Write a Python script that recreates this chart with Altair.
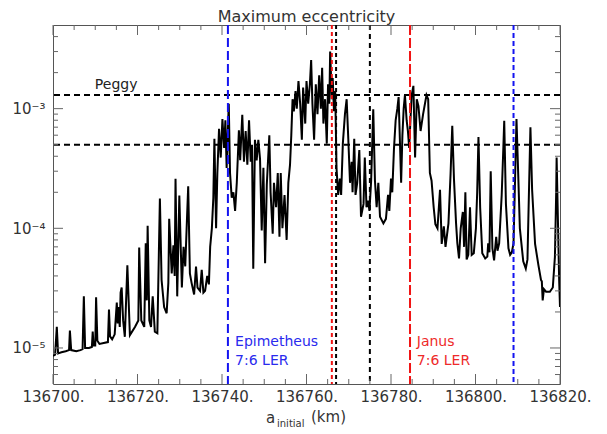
import altair as alt
import pandas as pd

# ---------------- data (a_initial in km, maximum eccentricity) ----------------
left_ramp = [
    (136700.0, 8.6e-6), (136700.5, 8.8e-6), (136700.9, 1.5e-5), (136701.2, 9.0e-6),
    (136702.0, 9.2e-6), (136703.0, 9.4e-6), (136703.8, 9.6e-6), (136704.0, 1.4e-5),
    (136704.3, 9.6e-6), (136705.5, 9.4e-6), (136706.5, 9.6e-6), (136707.0, 9.8e-6),
    (136707.3, 2.7e-5), (136707.6, 1.0e-5), (136708.5, 1.0e-5), (136709.2, 1.02e-5),
    (136709.4, 1.37e-5), (136709.6, 1.05e-5), (136710.0, 1.05e-5), (136710.2, 2.65e-5),
    (136710.5, 1.15e-5), (136711.0, 1.08e-5), (136712.0, 1.1e-5), (136713.0, 1.12e-5),
    (136713.25, 2.1e-5), (136713.5, 1.25e-5), (136714.0, 1.18e-5), (136714.6, 1.3e-5),
    (136715.1, 2.4e-5), (136715.3, 1.6e-5), (136715.5, 2.2e-5), (136715.8, 1.5e-5),
    (136716.0, 2.9e-5), (136716.25, 3.2e-5), (136716.6, 1.7e-5), (136717.0, 1.24e-5),
    (136717.6, 4.9e-5), (136718.2, 1.28e-5), (136719.4, 1.5e-5), (136720.2, 1.7e-5),
    (136720.4, 6.9e-5), (136720.9, 1.7e-5), (136721.6, 1.5e-5), (136721.95, 7.5e-5),
    (136722.2, 2.5e-5), (136722.4, 1.05e-4), (136722.8, 1.7e-5), (136723.2, 1.5e-5),
    (136723.6, 2.7e-5), (136724.1, 1.37e-5), (136724.7, 1.33e-5), (136725.3, 1.77e-4),
    (136725.7, 3.7e-5), (136726.3, 2.2e-5), (136726.9, 1.95e-5), (136727.3, 3.5e-5),
    (136727.5, 1.2e-4), (136728.1, 4.2e-5), (136728.5, 7.2e-5), (136728.8, 4.0e-5),
    (136729.0, 2.6e-4), (136729.4, 2.7e-5), (136729.9, 1.88e-4), (136730.5, 3.2e-5),
    (136730.9, 7.0e-5), (136731.3, 4.8e-5), (136731.7, 1.17e-4), (136732.0, 2.25e-4),
    (136732.4, 4.2e-5), (136732.8, 3.5e-5), (136733.4, 2.8e-5), (136733.85, 4.8e-5),
    (136734.2, 3.2e-5), (136734.8, 3.0e-5), (136735.2, 4.5e-5), (136735.6, 2.9e-5),
    (136736.0, 3.0e-5), (136736.5, 4.0e-5), (136736.9, 3.4e-5), (136737.2, 7.0e-5),
]
epimetheus_band = [
    (136737.6, 1.0e-4), (136737.95, 1.8e-4), (136738.2, 5.6e-4), (136738.6, 1.0e-4),
    (136738.9, 2.9e-4), (136739.3, 6.8e-4), (136739.7, 3.9e-4), (136740.1, 8.2e-4),
    (136740.5, 4.7e-4), (136740.8, 8.0e-4), (136741.1, 3.2e-4), (136741.6, 1.1e-3),
    (136741.9, 2.9e-4), (136742.3, 1.8e-4), (136742.7, 2.0e-4), (136743.1, 1.4e-4),
    (136743.5, 2.4e-4), (136744.0, 6.6e-4), (136744.3, 3.7e-4), (136744.8, 8.9e-4),
    (136745.2, 3.6e-4), (136745.6, 6.5e-4), (136746.0, 3.4e-4), (136746.4, 8.0e-4),
    (136746.8, 3.6e-4), (136747.1, 5.0e-4), (136747.4, 4.6e-5), (136747.8, 5.5e-4),
    (136748.2, 3.7e-4), (136748.6, 5.5e-4), (136749.0, 3.8e-4), (136749.4, 9.6e-5),
    (136749.8, 3.2e-4), (136750.2, 5.1e-5), (136750.6, 2.3e-4), (136751.2, 6.0e-4),
    (136751.5, 2.0e-4), (136752.0, 9.0e-5), (136752.3, 2.4e-4), (136752.8, 1.5e-4),
    (136753.2, 2.9e-4), (136753.6, 8.5e-5), (136753.9, 2.9e-4), (136754.3, 1.0e-4),
    (136754.8, 1.9e-4), (136755.3, 8.0e-5), (136755.7, 2.4e-4), (136756.1, 3.4e-4),
]
central_peak = [
    (136756.4, 6.0e-4), (136756.7, 1.2e-3), (136757.0, 9.5e-4), (136757.4, 1.4e-3),
    (136757.7, 1.0e-3), (136758.1, 1.7e-3), (136758.5, 1.1e-3), (136758.9, 5.5e-4),
    (136759.2, 1.5e-3), (136759.7, 7.5e-4), (136760.0, 1.7e-3), (136760.4, 1.1e-3),
    (136760.8, 1.6e-3), (136761.1, 2.55e-3), (136761.4, 1.1e-3), (136761.8, 5.5e-4),
    (136762.2, 1.6e-3), (136762.6, 9.0e-4), (136763.0, 1.9e-3), (136763.4, 1.0e-3),
    (136763.7, 2.2e-3), (136764.0, 7.5e-4), (136764.4, 1.2e-3), (136764.8, 5.1e-4),
    (136765.1, 1.6e-3), (136765.4, 1.1e-3), (136765.6, 3.0e-3), (136766.0, 1.2e-3),
    (136766.2, 1.8e-3), (136766.5, 9.5e-4), (136766.8, 1.4e-3), (136767.1, 3.2e-4),
    (136767.5, 1.9e-4), (136767.9, 2.6e-4), (136768.2, 1.9e-4), (136768.6, 5.1e-4),
    (136769.1, 9.0e-4), (136769.5, 1.2e-3), (136769.9, 5.5e-4), (136770.3, 2.4e-4),
    (136770.7, 3.6e-4), (136770.9, 2.0e-4), (136771.3, 5.6e-4), (136771.6, 1.9e-4),
    (136772.0, 2.4e-4), (136772.5, 4.5e-4), (136772.9, 1.25e-4), (136773.5, 1.6e-4),
    (136773.8, 3.9e-4), (136774.2, 1.5e-4), (136774.6, 1.7e-4), (136774.9, 1.4e-4),
    (136775.3, 2.5e-4), (136775.8, 9.9e-4), (136776.2, 2.5e-4), (136776.6, 1.5e-4),
    (136777.0, 2.4e-4), (136777.4, 1.25e-4), (136778.2, 1.1e-4),
]
janus_band = [
    (136778.8, 1.2e-4), (136779.3, 1.9e-4), (136779.6, 1.4e-4), (136780.0, 2.6e-4),
    (136780.3, 2.0e-4), (136780.7, 4.6e-4), (136781.1, 8.0e-4), (136781.5, 1.0e-3),
    (136781.8, 1.25e-3), (136782.1, 5.5e-4), (136782.4, 2.4e-4), (136782.7, 6.0e-4),
    (136783.0, 1.0e-3), (136783.3, 1.3e-3), (136783.7, 8.0e-4), (136784.0, 6.5e-4),
    (136784.3, 4.7e-4), (136784.6, 8.0e-4), (136784.9, 1.3e-3), (136785.3, 1.55e-3),
    (136785.7, 3.9e-4), (136786.1, 1.2e-3), (136786.5, 1.05e-3), (136787.0, 6.5e-4),
    (136787.6, 9.0e-4), (136788.4, 1.3e-3), (136788.8, 1.2e-3), (136789.2, 2.9e-4),
    (136789.6, 2.5e-4), (136790.1, 1.5e-4), (136790.5, 1.08e-4), (136791.0, 1.0e-4),
]
right_tail = [
    (136791.6, 2.1e-4), (136792.0, 7.4e-5), (136792.5, 1.04e-4), (136792.9, 7.0e-5),
    (136793.6, 1.1e-4), (136794.1, 2.85e-4), (136794.5, 7.2e-4), (136794.9, 2.6e-4),
    (136795.4, 1.1e-4), (136795.7, 7.5e-5), (136796.1, 5.6e-5), (136796.5, 1.0e-4),
    (136797.0, 1.37e-4), (136797.3, 7.0e-5), (136797.6, 2.0e-4), (136797.9, 5.5e-5),
    (136798.3, 6.0e-5), (136798.7, 1.5e-4), (136799.1, 6.0e-5), (136799.6, 6.2e-5),
    (136800.1, 1.0e-4), (136800.4, 2.0e-4), (136800.7, 5.8e-4), (136801.1, 1.5e-4),
    (136801.6, 6.2e-5), (136802.3, 5.6e-5), (136802.8, 5.8e-5), (136803.0, 7.5e-5),
    (136803.3, 6.3e-5), (136803.6, 3.0e-4), (136804.0, 6.8e-5), (136804.4, 5.4e-5),
    (136804.9, 8.5e-5), (136805.2, 6.5e-5), (136805.6, 7.5e-5), (136806.2, 1.9e-4),
    (136806.6, 4.8e-4), (136806.8, 7.9e-4), (136807.2, 1.6e-4), (136807.8, 6.8e-5),
    (136808.2, 6.0e-5), (136808.6, 6.3e-5), (136809.0, 7.5e-5), (136809.4, 2.9e-4),
    (136809.7, 8.2e-4), (136810.1, 2.9e-4), (136810.5, 1.0e-4), (136811.3, 5.3e-5),
    (136811.9, 4.6e-5), (136812.3, 5.5e-5), (136812.7, 2.4e-4), (136813.0, 7.0e-4),
    (136813.4, 2.1e-4), (136814.1, 7.4e-5), (136814.9, 4.9e-5), (136815.5, 3.7e-5),
    (136815.7, 3.6e-5), (136815.9, 2.5e-5), (136816.2, 3.1e-5), (136816.7, 2.95e-5),
    (136817.6, 2.95e-5), (136818.3, 3.2e-5), (136818.8, 5.8e-5), (136819.1, 2.0e-4),
    (136819.2, 3.9e-4), (136819.5, 1.2e-4), (136819.8, 3.7e-5), (136820.0, 2.2e-5),
]

peggy_levels = [1.3e-3, 5.0e-4]

vline_km = [136741.4, 136766.0, 136767.0, 136775.0, 136784.5, 136809.0]
vline_color = ["#1414f0", "#f01414", "#000000", "#000000", "#f01414", "#1414f0"]
vline_dash = [[9, 4], [4, 3], [4, 3], [5, 4], [10, 3], [5, 3]]

x_major = [136700, 136720, 136740, 136760, 136780, 136800, 136820]
x_minor = [136705, 136710, 136715, 136725, 136730, 136735, 136745, 136750, 136755,
           136765, 136770, 136775, 136785, 136790, 136795, 136805, 136810, 136815]
y_major = [1e-5, 1e-4, 1e-3]
y_minor = [6e-6, 7e-6, 8e-6, 9e-6,
           2e-5, 3e-5, 4e-5, 5e-5, 6e-5, 7e-5, 8e-5, 9e-5,
           2e-4, 3e-4, 4e-4, 5e-4, 6e-4, 7e-4, 8e-4, 9e-4,
           2e-3, 3e-3, 4e-3]

labels = pd.DataFrame({
    "x": [136709.9, 136743.1, 136743.1, 136786.1, 136786.1],
    "y": [1.46e-3, 1.03e-5, 7.2e-6, 1.03e-5, 7.2e-6],
    "t": ["Peggy", "Epimetheus", "7:6 LER", "Janus", "7:6 LER"],
    "c": ["#222222", "#2a2aee", "#2a2aee", "#ee2a2a", "#ee2a2a"],
})

title_text = "Maximum eccentricity"

# ---------------- chart ----------------
W, H = 507, 359
FONT = "DejaVu Sans"
trace = pd.DataFrame(left_ramp + epimetheus_band + central_peak + janus_band + right_tail,
                     columns=["a", "e"])

xs = alt.Scale(domain=[136700, 136820], nice=False, zero=False)
ys = alt.Scale(type="log", domain=[5e-6, 5e-3], nice=False)

x_axis = alt.Axis(values=x_major, labelExpr="datum.value + '.'", ticks=False, tickSize=0,
                  domain=False, grid=False, labelFontSize=15, labelFont=FONT,
                  labelColor="#333333", labelPadding=5, title=None, labelFlush=False)
y_axis = alt.Axis(values=y_major,
                  labelExpr="datum.value < 5e-5 ? '10⁻⁵' : (datum.value < 5e-4 ? '10⁻⁴' : '10⁻³')",
                  ticks=False, tickSize=0, domain=False, grid=False, labelFontSize=15,
                  labelFont=FONT, labelColor="#333333", labelPadding=8, title=None)

X = lambda f: alt.X(f, scale=xs, axis=x_axis)
Y = lambda f: alt.Y(f, scale=ys, axis=y_axis)

line = alt.Chart(trace).mark_line(color="black", strokeWidth=2, clip=True).encode(
    x=X("a:Q"), y=Y("e:Q"), order="a:Q")

hlines = alt.Chart(pd.DataFrame({"e": peggy_levels})).mark_rule(
    color="black", strokeWidth=2, strokeDash=[6, 4]).encode(y=Y("e:Q"))

vlayers = []
for xv, col, dash in zip(vline_km, vline_color, vline_dash):
    vlayers.append(alt.Chart(pd.DataFrame({"a": [xv]})).mark_rule(
        color=col, strokeWidth=2, strokeDash=dash).encode(x=X("a:Q")))

tick_col = "#666666"
xmaj_df = pd.DataFrame({"a": x_major})
xmin_df = pd.DataFrame({"a": x_minor})
ymaj_df = pd.DataFrame({"e": y_major})
ymin_df = pd.DataFrame({"e": y_minor})
ticks = [
    alt.Chart(xmaj_df).mark_rule(color=tick_col).encode(x=X("a:Q"), y=alt.value(H), y2=alt.value(H - 10)),
    alt.Chart(xmaj_df).mark_rule(color=tick_col).encode(x=X("a:Q"), y=alt.value(0), y2=alt.value(10)),
    alt.Chart(xmin_df).mark_rule(color=tick_col).encode(x=X("a:Q"), y=alt.value(H), y2=alt.value(H - 5)),
    alt.Chart(xmin_df).mark_rule(color=tick_col).encode(x=X("a:Q"), y=alt.value(0), y2=alt.value(5)),
    alt.Chart(ymaj_df).mark_rule(color=tick_col).encode(y=Y("e:Q"), x=alt.value(0), x2=alt.value(10)),
    alt.Chart(ymaj_df).mark_rule(color=tick_col).encode(y=Y("e:Q"), x=alt.value(W - 10), x2=alt.value(W)),
    alt.Chart(ymin_df).mark_rule(color=tick_col).encode(y=Y("e:Q"), x=alt.value(0), x2=alt.value(5)),
    alt.Chart(ymin_df).mark_rule(color=tick_col).encode(y=Y("e:Q"), x=alt.value(W - 5), x2=alt.value(W)),
]

texts = alt.Chart(labels).mark_text(align="left", baseline="alphabetic", fontSize=14,
                                    font=FONT).encode(
    x=X("x:Q"), y=Y("y:Q"), text="t:N", color=alt.Color("c:N", scale=None))

title_mark = alt.Chart(pd.DataFrame({"t": [title_text]})).mark_text(
    align="center", baseline="alphabetic", fontSize=16, font=FONT, color="#333333").encode(
    text="t:N", x=alt.value(W / 2), y=alt.value(-3))

xtitle_a = alt.Chart(pd.DataFrame({"t": ["a"]})).mark_text(
    align="left", baseline="middle", fontSize=15, font=FONT, color="#333333").encode(
    text="t:N", x=alt.value(213), y=alt.value(H + 34))
xtitle_sub = alt.Chart(pd.DataFrame({"t": ["initial"]})).mark_text(
    align="left", baseline="middle", fontSize=10, font=FONT, color="#333333").encode(
    text="t:N", x=alt.value(224), y=alt.value(H + 40))
xtitle_km = alt.Chart(pd.DataFrame({"t": ["(km)"]})).mark_text(
    align="left", baseline="middle", fontSize=15, font=FONT, color="#333333").encode(
    text="t:N", x=alt.value(258), y=alt.value(H + 33))

chart = alt.layer(
    line, hlines, *vlayers, *ticks, texts, title_mark, xtitle_a, xtitle_sub, xtitle_km
).properties(
    width=W, height=H,
    autosize=alt.AutoSizeParams(type="none"),
    padding={"left": 45, "top": 17, "right": 39, "bottom": 50},
).configure_view(stroke="#555555", strokeWidth=1)

chart.save("out.html", embed_options={"renderer": "svg", "actions": False})
